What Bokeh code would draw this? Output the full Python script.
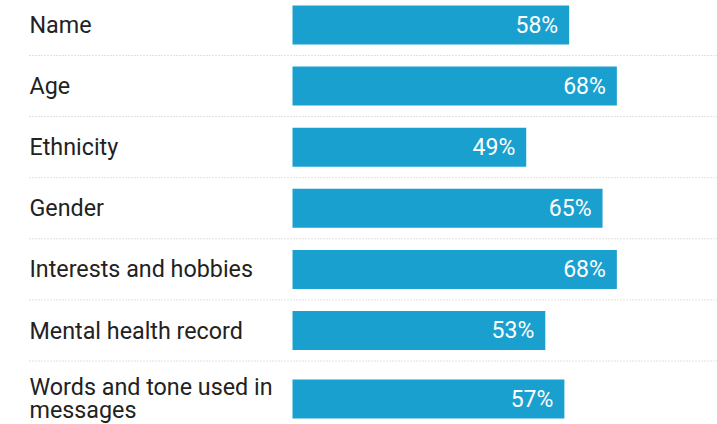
from bokeh.plotting import figure
from bokeh.models import ColumnDataSource, Range1d
from bokeh.core.properties import value
from bokeh.embed import file_html
from bokeh.resources import INLINE

categories = ["Name", "Age", "Ethnicity", "Gender", "Interests and hobbies",
              "Mental health record", "Words and tone used in\nmessages"]
values = [58, 68, 49, 65, 68, 53, 57]
value_labels = ["58%", "68%", "49%", "65%", "68%", "53%", "57%"]

W, H = 717, 424
PX_PER_PCT = 4.77
BAR_LEFT_PX = 292
LABEL_LEFT_PX = 29
ROW_PITCH = 61.1
FIRST_CENTER = 24.5
EXTRA_PER_LINE = 7.5
BAR_H = 39
LINE_SPACING = 22.5

# vertical layout in pixel units (y axis flipped: 0 at top)
centers = []
seps = []
y = FIRST_CENTER
for i, c in enumerate(categories):
    extra = EXTRA_PER_LINE * (c.count("\n"))
    if i > 0:
        y += ROW_PITCH + extra
    centers.append(y)
    if i < len(categories) - 1:
        seps.append(y + BAR_H / 2 + 11)

x_start = -BAR_LEFT_PX / PX_PER_PCT
x_end = (W - BAR_LEFT_PX) / PX_PER_PCT
label_x = x_start + LABEL_LEFT_PX / PX_PER_PCT

# split multi-line category labels into individual lines
line_txt, line_y = [], []
for c, yc in zip(categories, centers):
    parts = c.split("\n")
    n = len(parts)
    for k, part in enumerate(parts):
        line_txt.append(part)
        line_y.append(yc + (k - (n - 1) / 2) * LINE_SPACING - (0.8 if n > 1 else 0))

src = ColumnDataSource(dict(val=values, lab=value_labels, y=centers))
lab_src = ColumnDataSource(dict(t=line_txt, y=line_y, x=[label_x] * len(line_txt)))

p = figure(width=W, height=H, output_backend="svg", toolbar_location=None,
           x_range=Range1d(x_start, x_end), y_range=Range1d(H, 0),
           min_border=0, min_border_left=0, min_border_right=0,
           min_border_top=0, min_border_bottom=0)
p.axis.visible = False
p.grid.visible = False
p.outline_line_color = None
p.background_fill_color = "white"
p.border_fill_color = "white"

p.segment(x0=[label_x] * len(seps), x1=[x_end] * len(seps), y0=seps, y1=seps,
          line_color="#c4c4c4", line_width=1, line_dash="1 2")

p.hbar(y="y", left=0, right="val", height=BAR_H, source=src,
       fill_color="#1aa0cf", line_color=None)

p.text(x="x", y="y", text="t", source=lab_src, text_font=value("Roboto"),
       text_font_size="23.3px", text_color="#222222", text_align="left",
       text_baseline="middle")

p.text(x="val", y="y", text="lab", source=src, text_font=value("Roboto"),
       text_font_size="23px", text_color="white", text_align="right",
       text_baseline="middle", x_offset=-11)

open("out.html", "w").write(file_html(p, INLINE))
